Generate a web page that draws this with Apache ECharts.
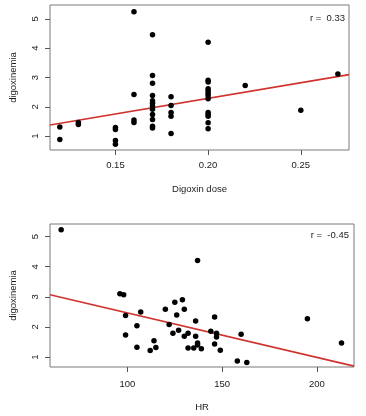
<!DOCTYPE html>
<html><head><meta charset="utf-8">
<script src="https://cdn.jsdelivr.net/npm/echarts@6/dist/echarts.min.js"></script>
<style>html,body{margin:0;padding:0;background:#fff}#c{width:366px;height:416px}</style>
</head><body><div id="c"></div>
<script>
// Top panel: Digoxin dose vs digoxinemia
const doseX = [0.12,0.12, 0.13,0.13, 0.15,0.15,0.15,0.15, 0.16,0.16,0.16,0.16,
  0.17,0.17,0.17,0.17,0.17,0.17,0.17,0.17,0.17,0.17,0.17,0.17,
  0.18,0.18,0.18,0.18,0.18,
  0.20,0.20,0.20,0.20,0.20,0.20,0.20,0.20,0.20,0.20,0.20,0.20,0.20,
  0.22, 0.25, 0.27];
const doseY = [1.31,0.89, 1.47,1.40, 1.30,1.23,0.85,0.73, 5.24,2.42,1.55,1.47,
  4.46,3.07,2.80,2.39,2.21,2.12,2.03,1.92,1.74,1.57,1.34,1.28,
  2.34,2.05,1.81,1.68,1.09,
  4.20,2.91,2.85,2.62,2.55,2.46,2.38,2.28,1.81,1.74,1.68,1.46,1.25,
  2.73, 1.88, 3.12];
// Bottom panel: HR vs digoxinemia
const hrX = [65,96,98,99,99,105,105,107,112,114,115,120,122,124,125,126,127,129,130,130,
  132,132,135,136,136,137,137,137,139,144,146,146,147,147,149,158,160,163,195,213];
const hrY = [5.23,3.10,3.07,2.38,1.73,2.04,1.33,2.50,1.22,1.54,1.32,2.59,2.08,1.79,2.82,2.40,1.89,2.90,2.59,1.69,
  1.79,1.30,1.30,2.20,1.69,4.21,1.47,1.40,1.28,1.86,2.33,1.43,1.79,1.67,1.23,0.87,1.76,0.82,2.27,1.47];
// regression fits (intercept, slope) and correlation labels
const doseFit = {a: 0.157, b: 10.66};
const hrFit = {a: 3.943, b: -0.01477};
const doseR = 'r =  0.33';
const hrR = 'r =  -0.45';
const doseTicks = [0.15, 0.20, 0.25];
const hrTicks = [100, 150, 200];
const yTicks = [1, 2, 3, 4, 5];
const doseRange = [0.1147, 0.276];
const hrRange = [59.1, 219.6];
const yRangeTop = [0.53, 5.47];
const yRangeBot = [0.67, 5.42];

const font = 'Liberation Sans, Arial, sans-serif';
const tickColor = '#555';
function xAxis(gi, range, ticks, name, dec, gap, margin) {
  return {
    type: 'value', gridIndex: gi, min: range[0], max: range[1],
    name: name, nameLocation: 'middle', nameGap: gap,
    nameTextStyle: {fontFamily: font, fontSize: 9.5, color: '#222'},
    axisLine: {show: false}, splitLine: {show: false},
    axisTick: {show: true, inside: false, length: 5, customValues: ticks, lineStyle: {color: tickColor}},
    axisLabel: {customValues: ticks, margin: margin, fontFamily: font, fontSize: 9.5, color: '#222',
      formatter: v => dec ? v.toFixed(dec) : String(Math.round(v))}
  };
}
function yAxis(gi, range) {
  return {
    type: 'value', gridIndex: gi, min: range[0], max: range[1],
    name: 'digoxinemia', nameLocation: 'middle', nameGap: 32, nameRotate: 90,
    nameTextStyle: {fontFamily: font, fontSize: 9.5, color: '#222'},
    axisLine: {show: false}, splitLine: {show: false},
    axisTick: {show: true, length: 5, customValues: yTicks, lineStyle: {color: tickColor}},
    axisLabel: {customValues: yTicks, rotate: 90, margin: 10, fontFamily: font, fontSize: 9.5, color: '#222'}
  };
}
function pts(xs, ys) { return xs.map((x, i) => [x, ys[i]]); }
function fitLine(fit, range) { return range.map(x => [x, fit.a + fit.b * x]); }

const chart = echarts.init(document.getElementById('c'), null, {renderer: 'canvas'});
chart.setOption({
  animation: false,
  grid: [
    {left: 49, top: 5, width: 300, height: 145, show: true, borderColor: '#7a7a7a', borderWidth: 1, backgroundColor: 'transparent'},
    {left: 49, top: 224, width: 305, height: 143, show: true, borderColor: '#7a7a7a', borderWidth: 1, backgroundColor: 'transparent'}
  ],
  xAxis: [xAxis(0, doseRange, doseTicks, 'Digoxin dose', 2, 34, 10), xAxis(1, hrRange, hrTicks, 'HR', 0, 35, 12)],
  yAxis: [yAxis(0, yRangeTop), yAxis(1, yRangeBot)],
  series: [
    {type: 'line', xAxisIndex: 0, yAxisIndex: 0, data: fitLine(doseFit, doseRange), symbol: 'none',
      lineStyle: {color: '#d0332e', width: 1.6}, z: 1},
    {type: 'scatter', xAxisIndex: 0, yAxisIndex: 0, data: pts(doseX, doseY), symbolSize: 5.5,
      itemStyle: {color: '#000', opacity: 1}, z: 2},
    {type: 'line', xAxisIndex: 1, yAxisIndex: 1, data: fitLine(hrFit, hrRange), symbol: 'none',
      lineStyle: {color: '#d0332e', width: 1.6}, z: 1},
    {type: 'scatter', xAxisIndex: 1, yAxisIndex: 1, data: pts(hrX, hrY), symbolSize: 5.5,
      itemStyle: {color: '#000', opacity: 1}, z: 2}
  ],
  graphic: [
    {type: 'text', right: 21, top: 13, style: {text: doseR, font: '9.5px ' + font, fill: '#222'}},
    {type: 'text', right: 17, top: 230, style: {text: hrR, font: '9.5px ' + font, fill: '#222'}}
  ]
});
</script>
</body></html>
